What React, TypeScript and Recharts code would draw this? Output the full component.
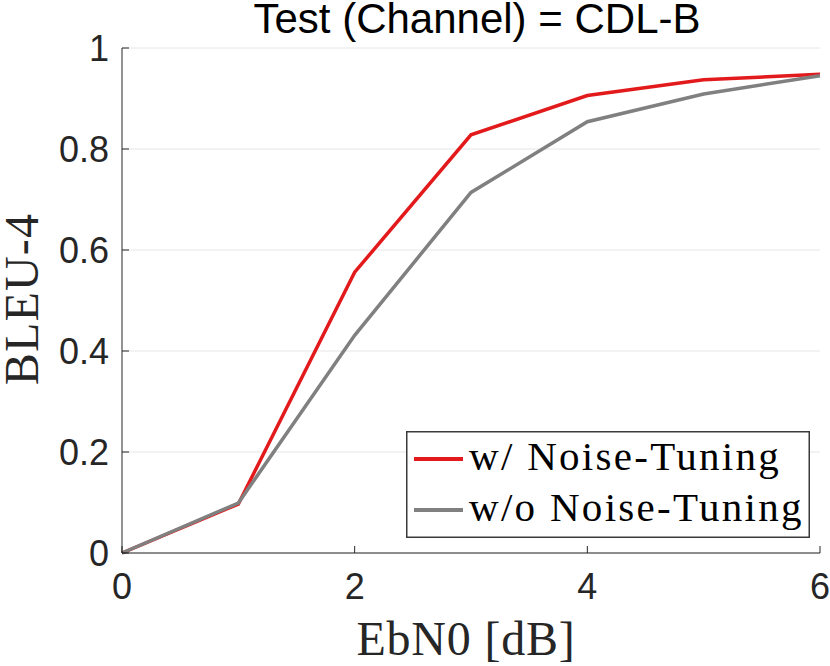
import React from 'react';
import { LineChart, Line, XAxis, YAxis, CartesianGrid, Legend } from 'recharts';

const ebn0 = [0, 1, 2, 3, 4, 5, 6];
const withTuning = [0.0, 0.097, 0.556, 0.828, 0.906, 0.937, 0.948];
const withoutTuning = [0.0, 0.099, 0.431, 0.714, 0.854, 0.909, 0.945];
const xTicks = [0, 2, 4, 6];
const yTicks = [0, 0.2, 0.4, 0.6, 0.8, 1];
const seriesNames = ['w/ Noise-Tuning', 'w/o Noise-Tuning'];
const seriesColors = ['#e31a1c', '#808080'];

const data = ebn0.map((x, i) => ({ x, a: withTuning[i], b: withoutTuning[i] }));

const AXIS = '#262626';
const SANS = '"Liberation Sans", Arial, Helvetica, sans-serif';
const SERIF = '"Liberation Serif", "Times New Roman", serif';

const fmt = (v: number) => (Math.abs(v) < 1e-9 ? '0' : Number(v.toFixed(1)).toString());

const XTick = (props: any) => {
  const { x, y, payload } = props;
  return (
    <g>
      <line x1={x} y1={y} x2={x} y2={y - 7} stroke={AXIS} strokeWidth={1} />
      <text x={x} y={y + 46} textAnchor="middle" fontFamily={SANS} fontSize={36} fill={AXIS}>
        {fmt(payload.value)}
      </text>
    </g>
  );
};

const YTick = (props: any) => {
  const { x, y, payload } = props;
  return (
    <g>
      <line x1={x} y1={y} x2={x + 7} y2={y} stroke={AXIS} strokeWidth={1} />
      <text x={x - 13} y={y + 13} textAnchor="end" fontFamily={SANS} fontSize={36} fill={AXIS}>
        {fmt(payload.value)}
      </text>
    </g>
  );
};

const LW = 404;
const LH = 107;

const LegendBox = (props: any) => {
  const payload = props.payload || [];
  return (
    <svg width={LW} height={LH} style={{ display: 'block' }}>
      <rect x={0.75} y={0.75} width={LW - 1.5} height={LH - 1.5} fill="#fff" stroke="#3a3a3a" strokeWidth={1.5} />
      {payload.map((p: any, i: number) => {
        const cy = 28 + i * 51;
        return (
          <g key={i}>
            <line x1={8} y1={cy} x2={57} y2={cy} stroke={p.color} strokeWidth={4} />
            <text x={63} y={cy + 11} fontFamily={SERIF} fontSize={41} letterSpacing={2.3} fill="#000">
              {p.value}
            </text>
          </g>
        );
      })}
    </svg>
  );
};

export default function App() {
  return (
    <div style={{ position: 'absolute', left: 0, top: 0, width: 830, height: 666, background: '#fff' }}>
      <LineChart width={830} height={666} data={data} margin={{ top: 48, right: 10, bottom: 0, left: 0 }}>
        <CartesianGrid horizontal vertical={false} stroke="#e6e6e6" strokeWidth={1} />
        <XAxis
          dataKey="x"
          type="number"
          domain={[0, 6]}
          ticks={xTicks}
          height={113}
          tickSize={0}
          tickMargin={0}
          tick={<XTick />}
          axisLine={{ stroke: AXIS, strokeWidth: 1 }}
          tickLine={false}
          interval={0}
        />
        <YAxis
          type="number"
          domain={[0, 1]}
          ticks={yTicks}
          width={122}
          tickSize={0}
          tickMargin={0}
          tick={<YTick />}
          axisLine={{ stroke: AXIS, strokeWidth: 1 }}
          tickLine={false}
          interval={0}
        />
        <Legend
          layout="vertical"
          align="center"
          verticalAlign="middle"
          content={<LegendBox />}
          wrapperStyle={{ position: 'absolute', left: 406, top: 431, width: LW, height: LH }}
        />
        <Line
          type="linear"
          dataKey="a"
          name={seriesNames[0]}
          stroke={seriesColors[0]}
          strokeWidth={3.5}
          dot={false}
          activeDot={false}
          isAnimationActive={false}
        />
        <Line
          type="linear"
          dataKey="b"
          name={seriesNames[1]}
          stroke={seriesColors[1]}
          strokeWidth={3.5}
          dot={false}
          activeDot={false}
          isAnimationActive={false}
        />
      </LineChart>
      <svg width={830} height={666} style={{ position: 'absolute', left: 0, top: 0, pointerEvents: 'none' }}>
        <text x={477} y={33} textAnchor="middle" fontFamily={SANS} fontSize={42} fill="#000">
          Test (Channel) = CDL-B
        </text>
        <text x={466} y={655} textAnchor="middle" fontFamily={SERIF} fontSize={48} letterSpacing={0.8} fill={AXIS}>
          EbN0 [dB]
        </text>
        <text
          x={0}
          y={0}
          transform="translate(38,299) rotate(-90)"
          textAnchor="middle"
          fontFamily={SERIF}
          fontSize={48}
          letterSpacing={1.2}
          fill={AXIS}
        >
          BLEU-4
        </text>
      </svg>
    </div>
  );
}
